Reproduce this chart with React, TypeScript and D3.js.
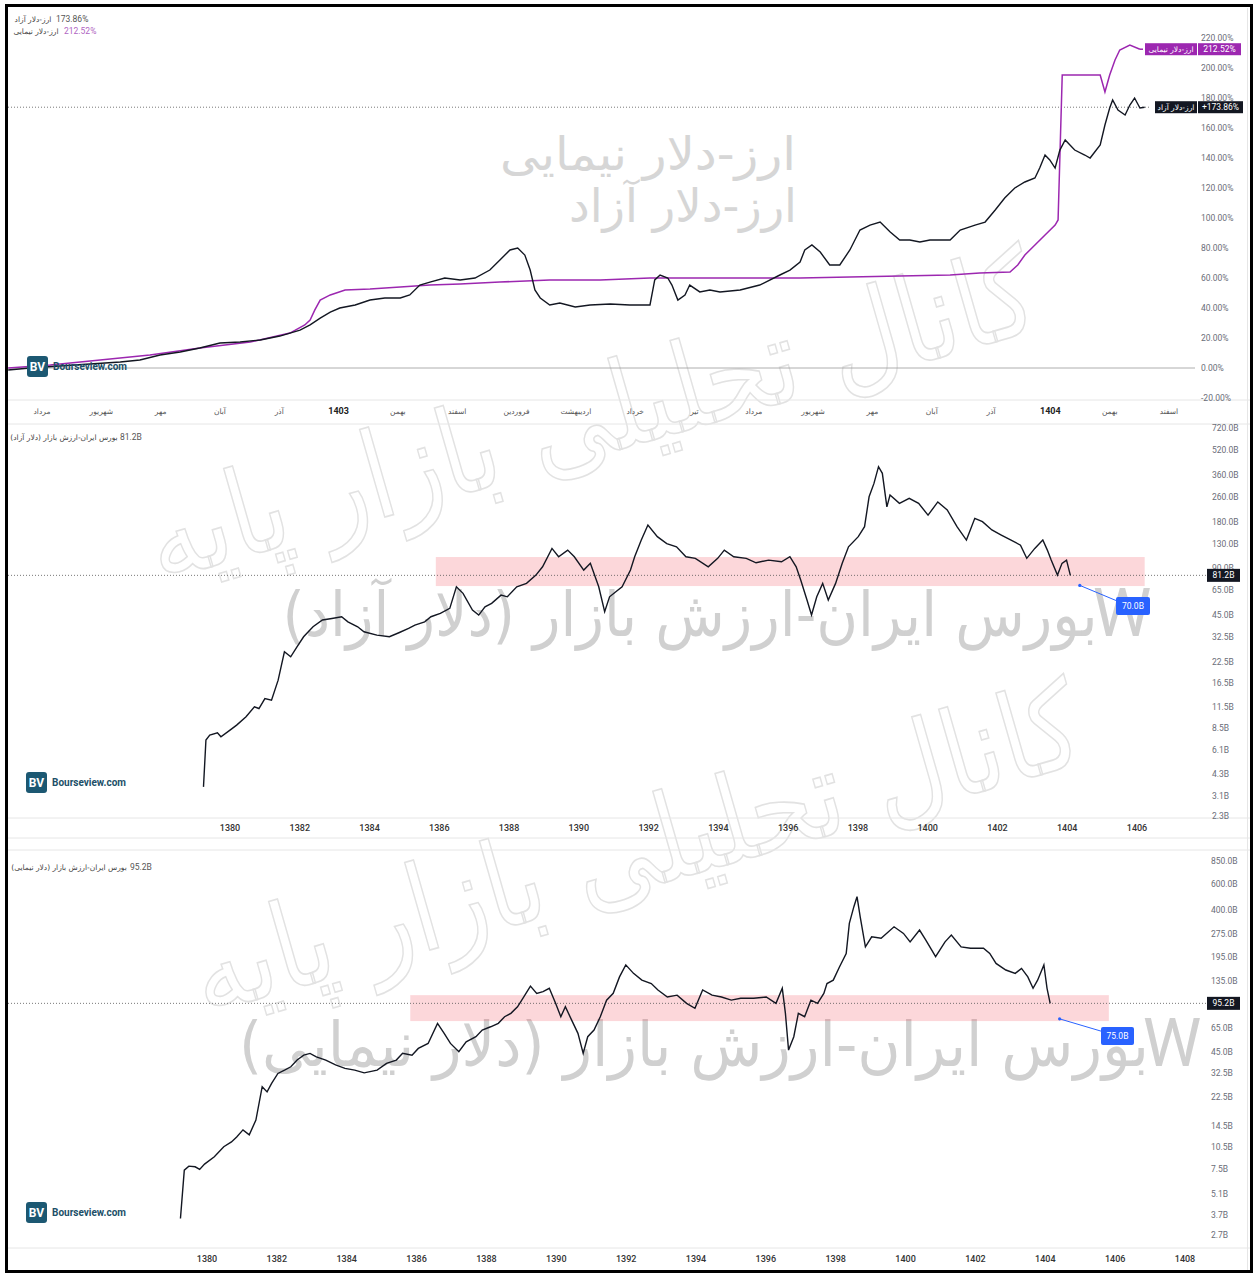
import React from 'react';
import * as d3 from 'd3';

// ---- top panel: dollar rate change (%) by month ----
const monthLabels = ['مرداد', 'شهریور', 'مهر', 'آبان', 'آذر', '1403', 'بهمن', 'اسفند', 'فروردین', 'اردیبهشت', 'خرداد', 'تیر', 'مرداد', 'شهریور', 'مهر', 'آبان', 'آذر', '1404', 'بهمن', 'اسفند'];
const pctTicks = [-20, 0, 20, 40, 60, 80, 100, 120, 140, 160, 180, 200, 220];

// [month index, % change]
const freeDollar: [number, number][] = [
  [-0.57, -1.3], [-0.2, 0], [0.3, 1.3], [0.81, 2.7], [1.32, 4], [1.65, 5.3], [1.99, 8.7], [2.33, 10.7], [2.66, 13.3], [3.0, 16.7],
  [3.34, 17.3], [3.68, 18.7], [4.01, 21.3], [4.35, 25.3], [4.52, 28.7], [4.69, 33.3], [4.86, 37.3], [5.02, 40], [5.28, 42], [5.53, 45.3],
  [5.78, 46.7], [6.04, 46.7], [6.2, 48.7], [6.37, 55.3], [6.54, 57.3], [6.79, 60], [7.05, 58.7], [7.3, 60], [7.55, 65.3], [7.72, 72],
  [7.89, 78.7], [8.02, 80], [8.14, 75.3], [8.23, 65.3], [8.31, 52], [8.4, 46.7], [8.56, 42], [8.73, 43.3], [8.99, 40.7], [9.24, 42],
  [9.58, 42.7], [9.91, 42], [10.25, 42], [10.33, 58.7], [10.42, 62], [10.55, 60], [10.62, 55.3], [10.72, 45.3], [10.84, 48.7], [10.92, 55.3],
  [11.09, 50.7], [11.26, 52], [11.43, 50.7], [11.77, 52], [12.1, 55.3], [12.44, 62], [12.61, 65.3], [12.78, 70.7], [12.86, 78.7], [12.98, 82],
  [13.12, 77.3], [13.28, 68.7], [13.45, 68.7], [13.62, 78.7], [13.79, 92], [13.96, 95.3], [14.13, 97.3], [14.3, 90.7], [14.46, 85.3], [14.63, 85.3],
  [14.8, 84], [14.97, 85.3], [15.31, 85.3], [15.48, 92], [15.73, 95.3], [15.9, 97.3], [16.07, 105.3], [16.23, 113.3], [16.4, 120], [16.57, 124],
  [16.74, 126.7], [16.82, 133.3], [16.91, 142], [16.99, 138.7], [17.08, 133.3], [17.16, 145.3], [17.25, 152], [17.41, 145.3], [17.58, 142], [17.67, 140],
  [17.84, 148.7], [17.92, 162], [18.0, 173.3], [18.05, 178.7], [18.14, 172], [18.26, 168.7], [18.34, 175.3], [18.42, 180], [18.51, 173.3], [18.59, 173.86],
];

const nimaDollar: [number, number][] = [
  [-0.57, 0], [0.14, 2], [0.98, 5.3], [1.82, 8.7], [2.66, 13.3], [3.51, 17.3], [4.18, 23.3], [4.43, 28.7], [4.52, 32], [4.6, 38.7],
  [4.69, 45.3], [4.86, 48.7], [5.11, 52], [5.53, 52.7], [6.04, 54], [6.54, 55.3], [7.05, 56], [7.72, 57.3], [8.56, 58.7], [9.41, 58.7],
  [10.25, 60], [11.09, 60], [11.94, 60], [12.78, 60], [13.62, 60.7], [14.46, 61.3], [15.31, 62], [15.81, 63.3], [16.32, 64], [16.45, 68.7],
  [16.57, 75.3], [16.74, 82], [16.91, 88.7], [17.08, 95.3], [17.13, 98.7], [17.2, 195.3], [17.41, 195.3], [17.67, 195.3], [17.84, 195.3], [17.92, 184],
  [18.0, 195.3], [18.09, 205.3], [18.17, 212], [18.34, 215.3], [18.51, 212.52],
];

// ---- middle panel: market value (free dollar), billions ----
const midYears = [1380, 1382, 1384, 1386, 1388, 1390, 1392, 1394, 1396, 1398, 1400, 1402, 1404, 1406];
const midTicks = [720, 520, 360, 260, 180, 130, 90, 65, 45, 32.5, 22.5, 16.5, 11.5, 8.5, 6.1, 4.3, 3.1, 2.3];
const marketFree: [number, number][] = [
  [1379.24, 3.54], [1379.31, 7.08], [1379.42, 7.62], [1379.64, 7.89], [1379.74, 7.43], [1380.0, 8.21], [1380.19, 8.84], [1380.46, 10.0], [1380.7, 11.6], [1380.83, 11.3],
  [1381.0, 13.1], [1381.19, 12.8], [1381.38, 17.2], [1381.56, 26.2], [1381.74, 24.3], [1381.92, 28.2], [1382.11, 32.7], [1382.38, 37.9], [1382.65, 41.9], [1382.92, 42.9],
  [1383.2, 44.0], [1383.38, 40.8], [1383.66, 37.9], [1383.84, 35.2], [1384.21, 33.5], [1384.57, 32.7], [1384.84, 34.7], [1385.12, 37.0], [1385.3, 38.9], [1385.58, 40.8],
  [1385.76, 44.0], [1386.03, 46.2], [1386.3, 49.8], [1386.49, 68.6], [1386.68, 62.2], [1386.95, 48.6], [1387.13, 45.1], [1387.31, 51.0], [1387.5, 53.6], [1387.77, 60.6],
  [1387.95, 59.1], [1388.22, 68.6], [1388.5, 72.1], [1388.77, 81.5], [1388.96, 92.2], [1389.23, 121], [1389.42, 107], [1389.68, 118], [1389.87, 107], [1390.14, 87.8],
  [1390.33, 97.0], [1390.57, 68.6], [1390.74, 47.4], [1390.88, 59.1], [1391.06, 63.7], [1391.24, 68.6], [1391.48, 87.8], [1391.6, 107], [1391.79, 137], [1391.98, 171],
  [1392.25, 144], [1392.52, 130], [1392.8, 124], [1393.07, 107], [1393.34, 104.5], [1393.71, 92.2], [1393.98, 104.5], [1394.17, 118], [1394.44, 107], [1394.8, 104.5],
  [1395.08, 97.8], [1395.44, 101.8], [1395.81, 99.3], [1396.05, 107], [1396.23, 92.2], [1396.36, 75.7], [1396.54, 56.3], [1396.67, 45.1], [1396.82, 59.1], [1396.99, 72.1],
  [1397.15, 56.3], [1397.36, 72.1], [1397.55, 97.0], [1397.73, 124], [1398.01, 144], [1398.19, 167], [1398.32, 260], [1398.46, 317], [1398.59, 406], [1398.7, 368],
  [1398.83, 224], [1398.92, 267], [1399.19, 236], [1399.47, 254], [1399.74, 236], [1400.01, 198], [1400.29, 241], [1400.56, 214], [1400.84, 167], [1401.11, 137],
  [1401.35, 189], [1401.57, 180], [1401.84, 159], [1402.11, 147.5], [1402.39, 137], [1402.66, 127], [1402.84, 104.5], [1403.07, 121], [1403.3, 137], [1403.43, 118],
  [1403.54, 101.8], [1403.72, 81.5], [1403.85, 97.0], [1403.98, 101.8], [1404.09, 81.2],
];
const midZone = { from: 1385.9, to: 1406.22, low: 69.3, high: 106.5 };
const midTarget = { year: 1404.36, value: 70.0, label: '70.0B' };

// ---- bottom panel: market value (Nima dollar), billions ----
const botYears = [1380, 1382, 1384, 1386, 1388, 1390, 1392, 1394, 1396, 1398, 1400, 1402, 1404, 1406, 1408];
const botTicks = [850, 600, 400, 275, 195, 135, 65, 45, 32.5, 22.5, 14.5, 10.5, 7.5, 5.1, 3.7, 2.7];
const marketNima: [number, number][] = [
  [1379.24, 3.48], [1379.35, 7.32], [1379.48, 7.79], [1379.66, 7.71], [1379.79, 7.4], [1379.93, 8.03], [1380.21, 8.99], [1380.48, 10.5], [1380.7, 11.3], [1380.85, 12.2],
  [1381.03, 13.6], [1381.21, 12.6], [1381.4, 15.8], [1381.58, 26.4], [1381.72, 24.4], [1381.85, 27.8], [1382.03, 32.4], [1382.22, 34.1], [1382.4, 35.9], [1382.58, 39.8],
  [1382.77, 42.9], [1382.95, 44.1], [1383.13, 41.8], [1383.4, 39.8], [1383.68, 36.9], [1383.95, 35.0], [1384.23, 34.1], [1384.5, 32.7], [1384.87, 34.1], [1385.14, 37.8],
  [1385.42, 39.8], [1385.6, 44.1], [1385.87, 42.9], [1386.05, 47.6], [1386.33, 51.4], [1386.6, 70.0], [1386.79, 60.0], [1386.97, 51.4], [1387.21, 45.2], [1387.42, 52.7],
  [1387.7, 57.0], [1387.88, 63.1], [1388.12, 66.4], [1388.34, 70.0], [1388.52, 77.5], [1388.7, 81.6], [1388.89, 90.3], [1389.07, 105], [1389.26, 124], [1389.44, 111],
  [1389.62, 114], [1389.8, 120], [1389.98, 95.2], [1390.13, 77.5], [1390.26, 90.3], [1390.44, 73.6], [1390.62, 60.0], [1390.77, 44.1], [1390.9, 57.0], [1391.08, 63.1],
  [1391.26, 77.5], [1391.44, 100], [1391.63, 111], [1391.81, 143], [1391.99, 172], [1392.21, 151], [1392.45, 136], [1392.72, 129], [1392.91, 117], [1393.18, 105],
  [1393.46, 108], [1393.73, 95.2], [1393.97, 88.2], [1394.19, 117], [1394.46, 108], [1394.73, 105], [1395.01, 100], [1395.28, 103], [1395.65, 103], [1396.01, 105],
  [1396.29, 95.2], [1396.47, 120], [1396.56, 81.6], [1396.65, 46.4], [1396.8, 57.0], [1396.93, 81.6], [1397.11, 77.5], [1397.29, 100], [1397.48, 95.2], [1397.66, 111],
  [1397.75, 129], [1397.93, 136], [1398.11, 167], [1398.3, 205], [1398.39, 326], [1398.52, 421], [1398.61, 491], [1398.7, 361], [1398.85, 227], [1399.03, 265],
  [1399.3, 259], [1399.67, 309], [1399.94, 279], [1400.13, 245], [1400.4, 294], [1400.58, 252], [1400.86, 195], [1401.13, 245], [1401.31, 272], [1401.59, 227],
  [1401.86, 222], [1402.23, 222], [1402.41, 205], [1402.59, 176], [1402.87, 159], [1403.14, 151], [1403.32, 163], [1403.5, 143], [1403.65, 120], [1403.78, 136],
  [1403.96, 172], [1404.05, 120], [1404.14, 95.2],
];
const botZone = { from: 1385.82, to: 1405.82, low: 72.5, high: 108 };
const botTarget = { year: 1404.41, value: 75.0, label: '75.0B' };

const FONT = 'Roboto, "DejaVu Sans", sans-serif';
const FA = '"DejaVu Sans", "Noto Sans", sans-serif';
const PURPLE = '#9c27b0';
const DARK = '#131722';
const LABEL = '#6a6d78';

const fa = (s: any) => ({ ...s, direction: 'rtl' as const, unicodeBidi: 'embed' as const });

function Logo({ x, y }: { x: number; y: number }) {
  return (
    <g>
      <rect x={x} y={y} width={21} height={21} rx={3} fill="#1c5872" />
      <text x={x + 10.5} y={y + 15} textAnchor="middle" fill="#fff" fontFamily={FONT} fontWeight={700} fontSize={12}>BV</text>
      <text x={x + 26} y={y + 14} fill="#1c4f68" fontFamily={FONT} fontWeight={700} fontSize={10}>Bourseview.com</text>
    </g>
  );
}

export default function App() {
  // top
  const tx = d3.scaleLinear().domain([0, 19]).range([42, 1169]);
  const ty = d3.scaleLinear().domain([-20, 220]).range([398, 38]);
  const topLine = d3.line<[number, number]>().x(d => tx(d[0])).y(d => ty(d[1]));
  const freeLast = freeDollar[freeDollar.length - 1][1];
  const nimaLast = nimaDollar[nimaDollar.length - 1][1];

  // middle
  const mx = d3.scaleLinear().domain([1380, 1406]).range([230, 1137]);
  const my = d3.scaleLog().domain([2.3, 720]).range([816, 428]);
  const midLine = d3.line<[number, number]>().x(d => mx(d[0])).y(d => my(d[1]));
  const midLast = marketFree[marketFree.length - 1][1];

  // bottom
  const bx = d3.scaleLinear().domain([1380, 1408]).range([207, 1185]);
  const by = d3.scaleLog().domain([2.7, 850]).range([1235, 861]);
  const botLine = d3.line<[number, number]>().x(d => bx(d[0])).y(d => by(d[1]));
  const botLast = marketNima[marketNima.length - 1][1];

  const diag = (cx: number, cy: number) => (
    <text x={cx} y={cy} transform={`rotate(-16 ${cx} ${cy})`} textAnchor="middle" dominantBaseline="central"
      fontFamily={FA} fontSize={120} fill="none" stroke="#e2e2e2" strokeWidth={1.6}
      textLength={920} lengthAdjust="spacingAndGlyphs" style={fa({})}>کانال تحلیلی بازار پایه</text>
  );

  return (
    <svg width={1258} height={1280} style={{ position: 'absolute', left: 0, top: 0, background: '#fff' }}>
      <defs>
        <clipPath id="cTop"><rect x={8} y={8} width={1190} height={392} /></clipPath>
        <clipPath id="cMid"><rect x={8} y={424} width={1190} height={394} /></clipPath>
        <clipPath id="cBot"><rect x={8} y={850} width={1190} height={398} /></clipPath>
      </defs>
      <rect x={0} y={0} width={1258} height={1280} fill="#fff" />

      {/* watermarks */}
      <text x={648} y={170} textAnchor="middle" fontFamily={FA} fontSize={46} fill="#d6d6d6" textLength={296} lengthAdjust="spacingAndGlyphs" style={fa({})}>ارز-دلار نیمایی</text>
      <text x={683} y={222} textAnchor="middle" fontFamily={FA} fontSize={46} fill="#d6d6d6" textLength={228} lengthAdjust="spacingAndGlyphs" style={fa({})}>ارز-دلار آزاد</text>
      <text x={690} y={636} textAnchor="middle" fontFamily={FA} fontSize={62} fill="#d0d0d0" textLength={815} lengthAdjust="spacingAndGlyphs" style={fa({})}>بورس ایران-ارزش بازار (دلار آزاد)</text>
      <text x={1122} y={636} textAnchor="middle" fontFamily={FONT} fontSize={66} fill="#d0d0d0">W</text>
      <text x={694} y={1066} textAnchor="middle" fontFamily={FA} fontSize={62} fill="#d0d0d0" textLength={910} lengthAdjust="spacingAndGlyphs" style={fa({})}>بورس ایران-ارزش بازار (دلار نیمایی)</text>
      <text x={1172} y={1066} textAnchor="middle" fontFamily={FONT} fontSize={66} fill="#d0d0d0">W</text>
      {diag(590, 415)}
      {diag(635, 848)}

      {/* frames */}
      <g stroke="#e6e6e6" strokeWidth={1}>
        <line x1={8} x2={1250} y1={400} y2={400} />
        <line x1={8} x2={1250} y1={424} y2={424} />
        <line x1={8} x2={1250} y1={818} y2={818} />
        <line x1={8} x2={1250} y1={838} y2={838} />
        <line x1={8} x2={1250} y1={850} y2={850} />
        <line x1={8} x2={1250} y1={1248} y2={1248} />
        <line x1={1247.5} x2={1247.5} y1={8} y2={1270} />
      </g>

      {/* ---------- TOP ---------- */}
      <line x1={8} x2={1195} y1={ty(0)} y2={ty(0)} stroke="#9a9a9a" strokeWidth={0.8} />
      <line x1={8} x2={1150} y1={ty(freeLast)} y2={ty(freeLast)} stroke="#555" strokeWidth={0.8} strokeDasharray="1 2" />
      <g clipPath="url(#cTop)">
        <path d={topLine(nimaDollar) || ''} fill="none" stroke={PURPLE} strokeWidth={1.5} />
        <path d={topLine(freeDollar) || ''} fill="none" stroke={DARK} strokeWidth={1.4} />
      </g>
      <line x1={tx(18.51)} x2={1143} y1={ty(nimaLast)} y2={ty(nimaLast)} stroke={PURPLE} strokeWidth={1.5} />
      {pctTicks.map(t => (
        <text key={t} x={1201} y={ty(t) + 3} fontFamily={FONT} fontSize={8.5} fill={LABEL}>{t.toFixed(2)}%</text>
      ))}
      {monthLabels.map((m, i) => (
        <text key={i} x={tx(i)} y={414} textAnchor="middle" fontFamily={/^\d+$/.test(m) ? FONT : FA}
          fontSize={/^\d+$/.test(m) ? 9 : 7.5} fontWeight={/^\d+$/.test(m) ? 700 : 400} fill={/^\d+$/.test(m) ? '#222' : '#555'}>{m}</text>
      ))}
      {/* right tags */}
      <rect x={1145} y={ty(nimaLast) - 6} width={52} height={12} fill={PURPLE} />
      <text x={1171} y={ty(nimaLast) + 3} textAnchor="middle" fontFamily={FA} fontSize={7.5} fill="#fff" style={fa({})}>ارز-دلار نیمایی</text>
      <rect x={1198} y={ty(nimaLast) - 6} width={43} height={12} fill={PURPLE} />
      <text x={1219.5} y={ty(nimaLast) + 3} textAnchor="middle" fontFamily={FONT} fontSize={8.5} fill="#fff">{nimaLast.toFixed(2)}%</text>
      <rect x={1155} y={ty(freeLast) - 6} width={42} height={12} fill={DARK} />
      <text x={1176} y={ty(freeLast) + 3} textAnchor="middle" fontFamily={FA} fontSize={7.5} fill="#fff" style={fa({})}>ارز-دلار آزاد</text>
      <rect x={1198} y={ty(freeLast) - 6} width={45} height={12} fill={DARK} />
      <text x={1220.5} y={ty(freeLast) + 3} textAnchor="middle" fontFamily={FONT} fontSize={8.5} fill="#fff">+{freeLast.toFixed(2)}%</text>
      {/* legend */}
      <text x={33} y={22} textAnchor="middle" fontFamily={FA} fontSize={7.5} fill="#444" style={fa({})}>ارز-دلار آزاد</text>
      <text x={56} y={22} fontFamily={FONT} fontSize={8.5} fill="#555">{freeLast.toFixed(2)}%</text>
      <text x={36} y={34} textAnchor="middle" fontFamily={FA} fontSize={7.5} fill="#444" style={fa({})}>ارز-دلار نیمایی</text>
      <text x={64} y={34} fontFamily={FONT} fontSize={8.5} fill="#b065c2">{nimaLast.toFixed(2)}%</text>
      <Logo x={27} y={356} />

      {/* ---------- MIDDLE ---------- */}
      <rect x={mx(midZone.from)} y={my(midZone.high)} width={mx(midZone.to) - mx(midZone.from)} height={my(midZone.low) - my(midZone.high)} fill="rgba(242,54,69,0.2)" />
      <line x1={8} x2={1207} y1={my(midLast)} y2={my(midLast)} stroke="#555" strokeWidth={0.8} strokeDasharray="1 2" />
      <g clipPath="url(#cMid)">
        <path d={midLine(marketFree) || ''} fill="none" stroke={DARK} strokeWidth={1.4} />
      </g>
      <line x1={mx(midTarget.year)} y1={my(midTarget.value)} x2={1122} y2={603} stroke="#2962ff" strokeWidth={1} />
      <circle cx={mx(midTarget.year)} cy={my(midTarget.value)} r={1.6} fill="#2962ff" />
      <rect x={1116} y={597} width={34} height={18} rx={2} fill="#2962ff" />
      <text x={1133} y={609} textAnchor="middle" fontFamily={FONT} fontSize={8.5} fill="#fff">{midTarget.label}</text>
      {midTicks.map(t => (
        <text key={t} x={1212} y={my(t) + 3} fontFamily={FONT} fontSize={8.5} fill={LABEL}>{t.toFixed(1)}B</text>
      ))}
      <rect x={1207} y={my(midLast) - 6.5} width={33} height={13} fill={DARK} />
      <text x={1223.5} y={my(midLast) + 3} textAnchor="middle" fontFamily={FONT} fontSize={8.5} fill="#fff">{midLast.toFixed(1)}B</text>
      {midYears.map(y => (
        <text key={y} x={mx(y)} y={831} textAnchor="middle" fontFamily={FONT} fontSize={9} fontWeight={500} fill="#333">{y}</text>
      ))}
      <text x={64} y={440} textAnchor="middle" fontFamily={FA} fontSize={7.5} fill="#444" style={fa({})}>بورس ایران-ارزش بازار (دلار آزاد)</text>
      <text x={120} y={440} fontFamily={FONT} fontSize={8.5} fill="#555">{midLast.toFixed(1)}B</text>
      <Logo x={26} y={772} />

      {/* ---------- BOTTOM ---------- */}
      <rect x={bx(botZone.from)} y={by(botZone.high)} width={bx(botZone.to) - bx(botZone.from)} height={by(botZone.low) - by(botZone.high)} fill="rgba(242,54,69,0.2)" />
      <line x1={8} x2={1207} y1={by(botLast)} y2={by(botLast)} stroke="#555" strokeWidth={0.8} strokeDasharray="1 2" />
      <g clipPath="url(#cBot)">
        <path d={botLine(marketNima) || ''} fill="none" stroke={DARK} strokeWidth={1.4} />
      </g>
      <line x1={bx(botTarget.year)} y1={by(botTarget.value)} x2={1104} y2={1032} stroke="#2962ff" strokeWidth={1} />
      <circle cx={bx(botTarget.year)} cy={by(botTarget.value)} r={1.6} fill="#2962ff" />
      <rect x={1101} y={1027} width={33} height={18} rx={2} fill="#2962ff" />
      <text x={1117.5} y={1039} textAnchor="middle" fontFamily={FONT} fontSize={8.5} fill="#fff">{botTarget.label}</text>
      {botTicks.map(t => (
        <text key={t} x={1211} y={by(t) + 3} fontFamily={FONT} fontSize={8.5} fill={LABEL}>{t.toFixed(1)}B</text>
      ))}
      <rect x={1207} y={by(botLast) - 6.5} width={33} height={13} fill={DARK} />
      <text x={1223.5} y={by(botLast) + 3} textAnchor="middle" fontFamily={FONT} fontSize={8.5} fill="#fff">{botLast.toFixed(1)}B</text>
      {botYears.map(y => (
        <text key={y} x={bx(y)} y={1262} textAnchor="middle" fontFamily={FONT} fontSize={9} fontWeight={500} fill="#333">{y}</text>
      ))}
      <text x={69} y={870} textAnchor="middle" fontFamily={FA} fontSize={7.5} fill="#444" style={fa({})}>بورس ایران-ارزش بازار (دلار نیمایی)</text>
      <text x={130} y={870} fontFamily={FONT} fontSize={8.5} fill="#555">{botLast.toFixed(1)}B</text>
      <Logo x={26} y={1202} />

      {/* outer frame */}
      <rect x={6.5} y={5.5} width={1245} height={1266} fill="none" stroke="#000" strokeWidth={3} />
    </svg>
  );
}
